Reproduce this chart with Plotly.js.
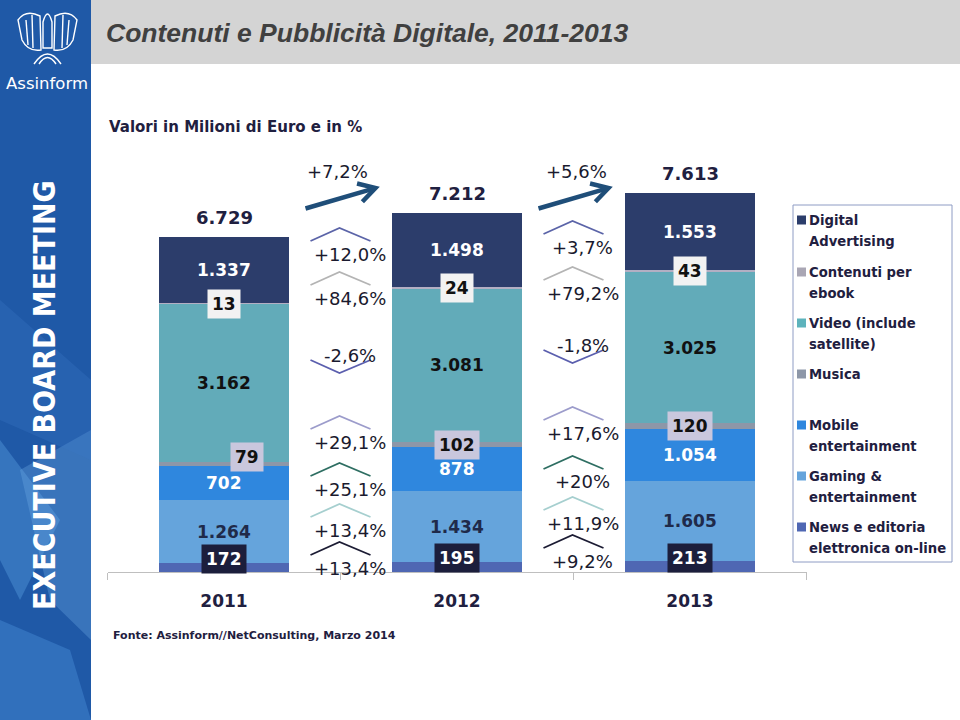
<!DOCTYPE html>
<html><head><meta charset="utf-8">
<script src="https://cdn.plot.ly/plotly-3.0.1.min.js"></script>
<style>html,body{margin:0;padding:0;background:#fff}#chart{width:960px;height:720px}</style>
</head><body><div id="chart"></div>
<script>
// ---------- DATA ----------
const years = ['2011', '2012', '2013'];
const seriesNames = ['News e editoria elettronica on-line', 'Gaming & entertainment', 'Mobile entertainment',
  'Musica', 'Video (include satellite)', 'Contenuti per ebook', 'Digital Advertising'];
const legendLines = [['News e editoria', 'elettronica on-line'], ['Gaming &', 'entertainment'], ['Mobile', 'entertainment'],
  ['Musica'], ['Video (include', 'satellite)'], ['Contenuti per', 'ebook'], ['Digital', 'Advertising']];
const newsEditoria = [172, 195, 213];
const gaming = [1264, 1434, 1605];
const mobile = [702, 878, 1054];
const musica = [79, 102, 120];
const video = [3162, 3081, 3025];
const ebook = [13, 24, 43];
const digitalAdv = [1337, 1498, 1553];
const totals = [6729, 7212, 7613];
const growth2012 = ['+13,4%', '+13,4%', '+25,1%', '+29,1%', '-2,6%', '+84,6%', '+12,0%'];
const growth2013 = ['+9,2%', '+11,9%', '+20%', '+17,6%', '-1,8%', '+79,2%', '+3,7%'];
const totalGrowth = ['+7,2%', '+5,6%'];
const titleText = 'Contenuti e Pubblicità Digitale, 2011-2013';
const subtitleText = 'Valori in Milioni di Euro e in %';
const sourceText = 'Fonte: Assinform//NetConsulting, Marzo 2014';

// ---------- STYLE / LAYOUT ----------
const values = [newsEditoria, gaming, mobile, musica, video, ebook, digitalAdv];
const barColors = ['#4F67B3', '#65A4DC', '#2F87DE', '#8D97A8', '#62ABB9', '#B3AFC3', '#2C3D6B'];
const legendColors = ['#4F67B3', '#65A4DC', '#2F87DE', '#8D97A8', '#5DB3BC', '#A9A6B4', '#2C3D6B'];
const labelStyle = [
  {bg: '#1C1E3C', color: '#FFFFFF', dy: 9},
  {bg: null, color: '#1F2A4A', dy: 0},
  {bg: null, color: '#FFFFFF', dy: 0},
  {bg: '#C9C7DD', color: '#111111', dy: 0},
  {bg: null, color: '#111111', dy: 0},
  {bg: '#F2F2F2', color: '#111111', dy: 0},
  {bg: null, color: '#FFFFFF', dy: 0}
];
const musicaNudge2011 = {dx: 23, dy: 7};
const chevronColors = ['#1C1C34', '#A6CFCF', '#2E6E62', '#9C9CCB', '#5B5FAE', '#B4B4B4', '#5B64A8'];
const pctRowsA = [568, 530, 489, 442, 355, 298, 254];
const pctRowsB = [561, 523, 482, 433, 345, 293, 247];
const legendRows = [527, 476, 425, 374, 323, 272, 220]; // first-line y for series bottom->top
const FONT = 'DejaVu Sans';
const NAVY = '#1F2040';

const W = 960, H = 720;
const plotL = 107.5, catW = 233, baseY = 572, pxPerUnit = 0.0498, topY = 150;
const yMax = (baseY - topY) / pxPerUnit;
const X = p => p / W;
const Y = p => 1 - p / H;
const xpx = v => plotL + (v + 0.5) * catW;
const fmt = n => String(n).replace(/\B(?=(\d{3})+(?!\d))/g, '.');

const xs = years.map((_, i) => i);
const traces = values.map((vals, s) => ({
  type: 'bar', x: xs, y: vals, name: seriesNames[s], width: 0.562,
  marker: {color: barColors[s], line: {width: 0}}, hoverinfo: 'skip', showlegend: false
}));

const annotations = [];
const shapes = [];
const txt = (o) => Object.assign({showarrow: false, xanchor: 'center', yanchor: 'middle'}, o);

// value labels at segment middles
years.forEach((yr, i) => {
  let cum = 0;
  values.forEach((vals, s) => {
    const mid = cum + vals[i] / 2;
    cum += vals[i];
    const st = labelStyle[s];
    let dx = 0, dy = st.dy;
    if (s === 3 && i === 0) { dx = musicaNudge2011.dx; dy = musicaNudge2011.dy; }
    const a = txt({xref: 'x', yref: 'y', x: i, y: mid, text: fmt(vals[i]),
      xshift: dx, yshift: dy, font: {family: FONT, size: 17, color: st.color, weight: 'bold'}});
    if (st.bg) { a.bgcolor = st.bg; a.borderpad = 4; }
    annotations.push(a);
  });
  annotations.push(txt({xref: 'x', yref: 'y', x: i, y: totals[i], yshift: 19, text: fmt(totals[i]),
    font: {family: FONT, size: 18, color: NAVY, weight: 'bold'}}));
});

// growth labels + chevrons
[[growth2012, pctRowsA], [growth2013, pctRowsB]].forEach(([labels, rows], c) => {
  const cx = xpx(c + 0.5);
  labels.forEach((t, s) => {
    const ty = rows[s];
    annotations.push(txt({xref: 'x', yref: 'paper', x: c + 0.5, xshift: 9, y: Y(ty), text: t,
      font: {family: FONT, size: 18, color: '#1A1A2E'}}));
    const neg = t.charAt(0) === '-';
    const endY = neg ? ty + 5 : ty - 13;
    const apexY = neg ? ty + 18 : ty - 26;
    shapes.push({type: 'path', xref: 'paper', yref: 'paper', layer: 'above',
      path: `M ${X(cx - 30)},${Y(endY)} L ${X(cx - 1)},${Y(apexY)} L ${X(cx + 30)},${Y(endY)}`,
      line: {color: chevronColors[s], width: 1.8}});
  });
  // total growth arrow
  const x0 = cx - 35, y0 = 208.5, x1 = cx + 35, y1 = 188;
  shapes.push({type: 'line', xref: 'paper', yref: 'paper', x0: X(x0), y0: Y(y0), x1: X(x1 - 2), y1: Y(y1 + 0.6),
    line: {color: '#1F4E79', width: 4.5}, layer: 'above'});
  const dxv = x1 - x0, dyv = y1 - y0, L = Math.hypot(dxv, dyv);
  const bx = -dxv / L, by = -dyv / L, hl = 19, ca = Math.cos(Math.PI / 6), sa = Math.sin(Math.PI / 6);
  const p1 = [x1 + hl * (bx * ca - by * sa), y1 + hl * (bx * sa + by * ca)];
  const p2 = [x1 + hl * (bx * ca + by * sa), y1 + hl * (-bx * sa + by * ca)];
  shapes.push({type: 'path', xref: 'paper', yref: 'paper', layer: 'above',
    path: `M ${X(p1[0])},${Y(p1[1])} L ${X(x1)},${Y(y1)} L ${X(p2[0])},${Y(p2[1])}`,
    line: {color: '#1F4E79', width: 4.5}});
  annotations.push(txt({xref: 'x', yref: 'paper', x: c + 0.5, xshift: c === 0 ? -3 : 3, y: Y(171.5),
    text: totalGrowth[c], font: {family: FONT, size: 18, color: '#1A1A2E'}}));
});

// sidebar and header
shapes.push({type: 'rect', xref: 'paper', yref: 'paper', x0: 0, x1: X(91), y0: 0, y1: 1, layer: 'below',
  fillcolor: '#1F59A7', line: {width: 0}});
[[`M 0,${Y(440)} L ${X(60)},${Y(520)} L ${X(20)},${Y(600)} L 0,${Y(560)} Z`, 'rgba(90,160,225,0.40)'],
 [`M ${X(20)},${Y(470)} L ${X(91)},${Y(430)} L ${X(91)},${Y(640)} L ${X(50)},${Y(600)} Z`, 'rgba(120,180,235,0.30)'],
 [`M 0,${Y(620)} L ${X(70)},${Y(650)} L ${X(91)},${Y(720)} L 0,${Y(720)} Z`, 'rgba(70,140,215,0.45)'],
 [`M 0,${Y(300)} L ${X(91)},${Y(380)} L ${X(91)},${Y(460)} L 0,${Y(420)} Z`, 'rgba(60,120,200,0.30)']
].forEach(([p, col]) => shapes.push({type: 'path', xref: 'paper', yref: 'paper', path: p, fillcolor: col,
  line: {width: 0}, layer: 'below'}));
shapes.push({type: 'rect', xref: 'paper', yref: 'paper', x0: X(91), x1: 1, y0: Y(64), y1: 1, layer: 'below',
  fillcolor: '#D4D4D4', line: {width: 0}});

// logo emblem (approximation)
const logoPaths = [
  `M ${X(18)},${Y(20)} Q ${X(26)},${Y(9)} ${X(40)},${Y(16)} L ${X(41)},${Y(50)} Q ${X(28)},${Y(52)} ${X(22)},${Y(40)} Z`,
  `M ${X(77)},${Y(20)} Q ${X(69)},${Y(9)} ${X(55)},${Y(16)} L ${X(54)},${Y(50)} Q ${X(67)},${Y(52)} ${X(73)},${Y(40)} Z`,
  `M ${X(43)},${Y(22)} Q ${X(47.5)},${Y(6)} ${X(52)},${Y(22)} L ${X(52)},${Y(48)} L ${X(43)},${Y(48)} Z`,
  `M ${X(26)},${Y(20)} L ${X(28)},${Y(45)}`, `M ${X(32)},${Y(15)} L ${X(33)},${Y(48)}`,
  `M ${X(69)},${Y(20)} L ${X(67)},${Y(45)}`, `M ${X(63)},${Y(15)} L ${X(62)},${Y(48)}`,
  `M ${X(34)},${Y(64)} Q ${X(47.5)},${Y(44)} ${X(61)},${Y(64)}`,
  `M ${X(39)},${Y(64)} Q ${X(47.5)},${Y(51)} ${X(56)},${Y(64)}`
];
logoPaths.forEach(p => shapes.push({type: 'path', xref: 'paper', yref: 'paper', path: p,
  line: {color: '#FFFFFF', width: 1.4}, layer: 'above'}));
annotations.push(txt({xref: 'paper', yref: 'paper', x: X(47), y: Y(83), text: 'Assinform',
  font: {family: FONT, size: 16.5, color: '#FFFFFF'}}));
annotations.push(txt({xref: 'paper', yref: 'paper', x: X(44), y: Y(395), text: 'EXECUTIVE BOARD MEETING', textangle: -90,
  font: {family: "'DejaVu Sans Condensed', 'Liberation Sans', sans-serif", size: 30, color: '#FFFFFF', weight: 'bold'}}));

// subtitle and source
annotations.push(txt({xref: 'paper', yref: 'paper', x: X(107), xanchor: 'left', y: Y(127), text: subtitleText,
  font: {family: FONT, size: 15, color: NAVY, weight: 'bold'}}));
annotations.push(txt({xref: 'paper', yref: 'paper', x: X(111), xanchor: 'left', y: Y(635), text: sourceText,
  font: {family: FONT, size: 11, color: NAVY, weight: 'bold'}}));

// legend (manual)
shapes.push({type: 'rect', xref: 'paper', yref: 'paper', x0: X(793), x1: X(952), y0: Y(562), y1: Y(205),
  line: {color: '#8E9CC4', width: 1}, fillcolor: 'rgba(255,255,255,0)', layer: 'above'});
legendLines.forEach((lines, s) => {
  const y0 = legendRows[s];
  shapes.push({type: 'rect', xref: 'paper', yref: 'paper', x0: X(797), x1: X(806), y0: Y(y0 + 4.5), y1: Y(y0 - 4.5),
    fillcolor: legendColors[s], line: {width: 0}, layer: 'above'});
  lines.forEach((ln, k) => annotations.push(txt({xref: 'paper', yref: 'paper', x: X(807), xanchor: 'left',
    y: Y(y0 + k * 21.5), text: ln, font: {family: FONT, size: 13.2, color: NAVY, weight: 'bold'}})));
});

const layout = {
  width: W, height: H, margin: {l: 0, r: 0, t: 0, b: 0}, paper_bgcolor: '#FFFFFF', plot_bgcolor: 'rgba(0,0,0,0)',
  barmode: 'stack', showlegend: false,
  title: {text: titleText, xref: 'paper', yref: 'paper', x: X(106), xanchor: 'left', y: Y(33), yanchor: 'middle',
    font: {family: 'Liberation Sans', size: 26.5, color: '#404040', style: 'italic', weight: 'bold'}},
  xaxis: {domain: [X(plotL), X(plotL + 3 * catW)], range: [-0.5, 2.5], tickmode: 'array', tickvals: xs, ticktext: years,
    ticks: '', showline: true, linecolor: '#BFBFBF', linewidth: 1, showgrid: false, zeroline: false, automargin: false,
    ticklabelstandoff: 14, tickfont: {family: FONT, size: 17, color: NAVY, weight: 'bold'},
    minor: {tickmode: 'array', tickvals: [-0.5, 0.5, 1.5, 2.5], ticks: 'outside', ticklen: 7, tickcolor: '#BFBFBF',
      tickwidth: 1, showgrid: false}},
  yaxis: {domain: [1 - baseY / H, 1 - topY / H], range: [0, yMax], visible: false, showgrid: false, zeroline: false,
    automargin: false},
  shapes: shapes, annotations: annotations
};
Plotly.newPlot('chart', traces, layout, {displayModeBar: false, staticPlot: true});
</script></body></html>
